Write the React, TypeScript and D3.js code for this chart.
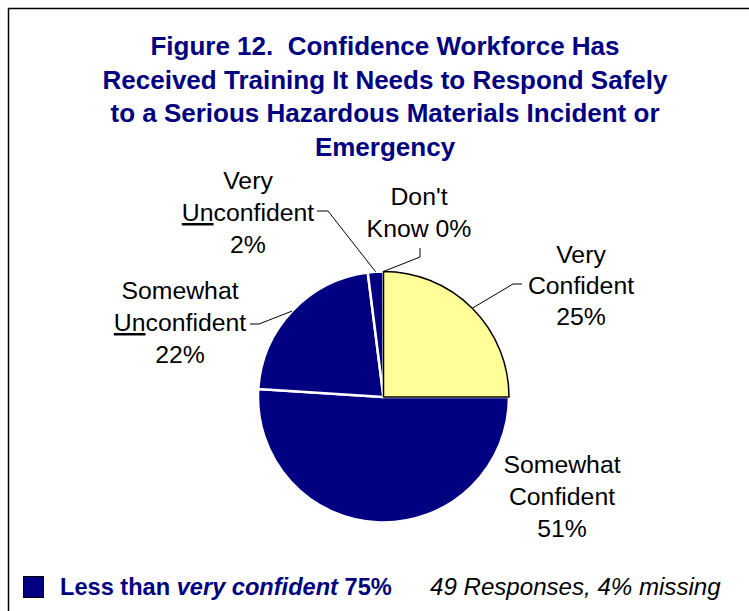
import React, { useEffect, useRef } from 'react'
import * as d3 from 'd3'

// survey answers, clockwise from 12 o'clock
const categories = ['Very Confident', 'Somewhat Confident', 'Somewhat Unconfident', 'Very Unconfident', "Don't Know"]
const percents = [25, 51, 22, 2, 0]
const labelLines = [
  ['Very', 'Confident', '25%'],
  ['Somewhat', 'Confident', '51%'],
  ['Somewhat', 'Unconfident', '22%'],
  ['Very', 'Unconfident', '2%'],
  ["Don't", 'Know 0%'],
]
const titleLines = [
  'Figure 12.  Confidence Workforce Has',
  'Received Training It Needs to Respond Safely',
  'to a Serious Hazardous Materials Incident or',
  'Emergency',
]
const lessThanVeryConfident = 75
const responses = 49
const missingPct = 4

const NAVY = '#000080'
const YELLOW = '#FFFF99'
const FONT = '"Liberation Sans", Arial, Helvetica, sans-serif'

// label placement: center x, first baseline, line step, leader elbow/end (null = no leader)
const labelLayout: Record<string, { x: number; y: number; dy: number; leader: [number, number][] | null }> = {
  'Very Confident': { x: 581, y: 263, dy: 31, leader: [[513, 284], [522, 284]] },
  'Somewhat Confident': { x: 562, y: 473, dy: 32, leader: null },
  'Somewhat Unconfident': { x: 180, y: 299, dy: 32, leader: [[259, 324], [250, 324]] },
  'Very Unconfident': { x: 248, y: 189, dy: 32, leader: [[328, 211], [317, 211]] },
  "Don't Know": { x: 419, y: 205, dy: 32, leader: [[420, 257], [420, 248]] },
}

const App = () => {
  const ref = useRef<SVGSVGElement>(null)

  useEffect(() => {
    const svg = d3.select(ref.current)
    svg.selectAll('*').remove()

    // frame (runs off the right and bottom edges)
    svg.append('rect')
      .attr('x', 8.5).attr('y', 8.5).attr('width', 800).attr('height', 700)
      .attr('fill', 'white').attr('stroke', 'black').attr('stroke-width', 1.5)

    // title
    const title = svg.append('text')
      .attr('text-anchor', 'middle').attr('font-family', FONT)
      .attr('font-weight', 'bold').attr('font-size', 26).attr('fill', NAVY)
      .style('white-space', 'pre')
    titleLines.forEach((t, i) => {
      title.append('tspan').attr('x', 385).attr('y', 55 + i * 33.5).text(t)
    })

    const cx = 383.5, cy = 397, r = 125.5
    const data = categories.map((c, i) => ({ name: c, value: percents[i] }))
    const pie = d3.pie<{ name: string; value: number }>().sort(null).value((d) => d.value)
    const arcs = pie(data)
    const arc = d3.arc<d3.PieArcDatum<{ name: string; value: number }>>().innerRadius(0).outerRadius(r)

    const g = svg.append('g').attr('transform', `translate(${cx},${cy})`)

    // navy slices first with white separators, yellow on top with black outline
    const order = [...arcs].sort((a, b) => (a.index === 0 ? 1 : 0) - (b.index === 0 ? 1 : 0))
    g.selectAll('path.slice')
      .data(order.filter((d) => d.value > 0))
      .enter()
      .append('path')
      .attr('class', 'slice')
      .attr('d', arc)
      .attr('fill', (d) => (d.index === 0 ? YELLOW : NAVY))
      .attr('stroke', (d) => (d.index === 0 ? 'black' : 'white'))
      .attr('stroke-width', (d) => (d.index === 0 ? 1.5 : 2.5))
      .attr('stroke-linejoin', 'round')

    // leader lines from slice midpoints on the rim
    arcs.forEach((a) => {
      const lay = labelLayout[a.data.name]
      if (!lay.leader) return
      const mid = (a.startAngle + a.endAngle) / 2
      const pts: [number, number][] = [[cx + r * Math.sin(mid), cy - r * Math.cos(mid)], ...lay.leader]
      svg.append('path')
        .attr('d', d3.line()(pts))
        .attr('fill', 'none').attr('stroke', 'black').attr('stroke-width', 1)
    })

    // labels
    arcs.forEach((a, i) => {
      const lay = labelLayout[a.data.name]
      const t = svg.append('text')
        .attr('text-anchor', 'middle').attr('font-family', FONT)
        .attr('font-size', 24.8).attr('fill', 'black')
      labelLines[i].forEach((line, j) => {
        const ts = t.append('tspan').attr('x', lay.x).attr('y', lay.y + j * lay.dy)
        if (line === 'Unconfident') {
          ts.append('tspan').attr('text-decoration', 'underline').text('Un')
          ts.append('tspan').text('confident')
        } else {
          ts.text(line)
        }
      })
    })

    // legend
    svg.append('rect')
      .attr('x', 23.5).attr('y', 576.5).attr('width', 20).attr('height', 21)
      .attr('fill', NAVY).attr('stroke', 'black').attr('stroke-width', 1)
    const leg = svg.append('text')
      .attr('x', 60).attr('y', 595).attr('font-family', FONT)
      .attr('font-weight', 'bold').attr('font-size', 23.6).attr('fill', NAVY)
    leg.append('tspan').text('Less than ')
    leg.append('tspan').attr('font-style', 'italic').text('very confident')
    leg.append('tspan').text(` ${lessThanVeryConfident}%`)

    svg.append('text')
      .attr('x', 430).attr('y', 595).attr('font-family', FONT)
      .attr('font-style', 'italic').attr('font-size', 24.1).attr('fill', 'black')
      .text(`${responses} Responses, ${missingPct}% missing`)
  }, [])

  return (
    <svg
      ref={ref}
      width={749}
      height={611}
      style={{ position: 'absolute', left: 0, top: 0, display: 'block', background: 'white' }}
    />
  )
}

export default App
